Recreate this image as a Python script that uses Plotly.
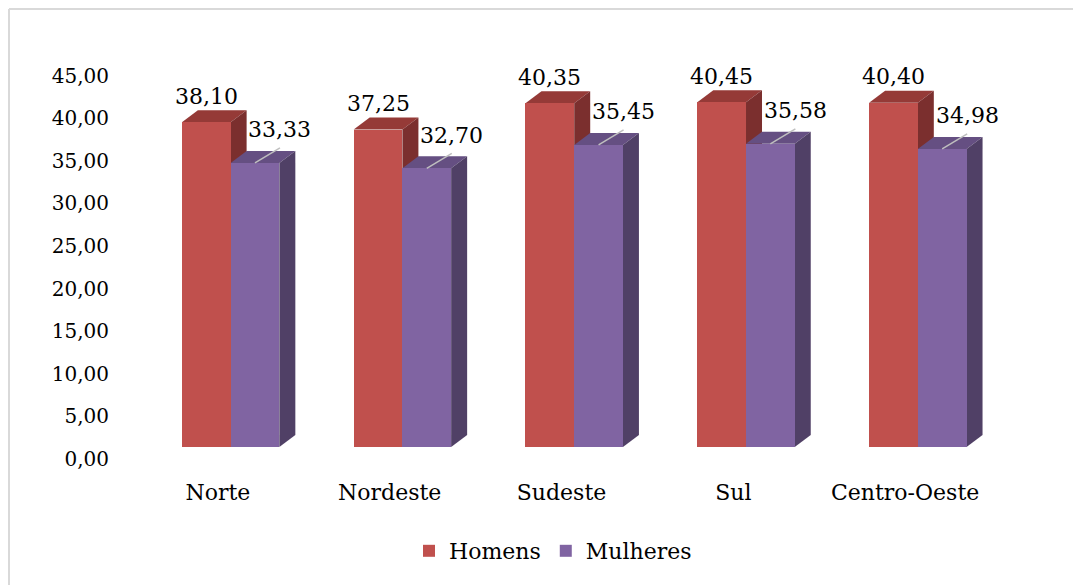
"""Idade média por região e sexo - barras com efeito 3D."""

import plotly.graph_objects as go

REGIOES = ["Norte", "Nordeste", "Sudeste", "Sul", "Centro-Oeste"]
HOMENS = [38.10, 37.25, 40.35, 40.45, 40.40]
MULHERES = [33.33, 32.70, 35.45, 35.58, 34.98]
Y_TICKS = [0, 5, 10, 15, 20, 25, 30, 35, 40, 45]
Y_TICK_LABELS = ["0,00", "5,00", "10,00", "15,00", "20,00", "25,00",
                 "30,00", "35,00", "40,00", "45,00"]

FONT = "DejaVu Serif"
# the page body keeps its default 8px margin, so the figure starts at (8, 8)
PAGE = 8
W, H = 1081 - PAGE, 585 - PAGE
ML, MR, MT, MB = 132 - PAGE, 90, 55 - PAGE, 138
Y_MAX = 46.0

# geometry of the fake 3D (category units / value units)
BAR_W = 0.2836
SHIFT = 0.074
PLOT_W = W - ML - MR
PLOT_H = H - MT - MB
DX = 16 / (PLOT_W / len(REGIOES))
DY = 12 / (PLOT_H / Y_MAX)

COLORS = {
    "Homens": ("#C0504D", "#953A37", "#7B2F2E"),
    "Mulheres": ("#8064A2", "#654F82", "#504066"),
}


def fmt(v):
    return f"{v:.2f}".replace(".", ",")


def faces(x0, x1, v, top_col, side_col):
    top = (f"M {x0},{v} L {x0 + DX},{v + DY} L {x1 + DX},{v + DY} "
           f"L {x1},{v} Z")
    side = (f"M {x1},0 L {x1 + DX},{DY} L {x1 + DX},{v + DY} "
            f"L {x1},{v} Z")
    return [
        dict(type="path", path=top, fillcolor=top_col, line_width=0,
             layer="below", xref="x", yref="y"),
        dict(type="path", path=side, fillcolor=side_col, line_width=0,
             layer="below", xref="x", yref="y"),
    ]


fig = go.Figure()
fig.add_trace(go.Bar(
    x=list(range(len(REGIOES))), y=HOMENS, name="Homens",
    width=BAR_W, offset=-BAR_W + SHIFT,
    marker=dict(color=COLORS["Homens"][0], line_width=0),
))
fig.add_trace(go.Bar(
    x=list(range(len(REGIOES))), y=MULHERES, name="Mulheres",
    width=BAR_W, offset=SHIFT,
    marker=dict(color=COLORS["Mulheres"][0], line_width=0),
))

shapes = []
annotations = []
for i in range(len(REGIOES)):
    h, m = HOMENS[i], MULHERES[i]
    hx0, hx1 = i - BAR_W + SHIFT, i + SHIFT
    mx0, mx1 = i + SHIFT, i + SHIFT + BAR_W
    shapes += faces(hx0, hx1, h, COLORS["Homens"][1], COLORS["Homens"][2])
    shapes += faces(mx0, mx1, m, COLORS["Mulheres"][1], COLORS["Mulheres"][2])

    mc = (mx0 + mx1) / 2
    shapes.append(dict(
        type="line", xref="x", yref="y", xsizemode="pixel", ysizemode="pixel",
        xanchor=mc, yanchor=m, x0=0, y0=0, x1=25, y1=15,
        line=dict(color="#BFBFBF", width=1.5), layer="above",
    ))
    annotations.append(dict(
        x=(hx0 + hx1) / 2, y=h, text=fmt(h), showarrow=False,
        xanchor="center", yanchor="middle", yshift=26,
        font=dict(family=FONT, size=22, color="#000000"),
    ))
    annotations.append(dict(
        x=mc, y=m, text=fmt(m), showarrow=False,
        xanchor="center", yanchor="middle", xshift=25, yshift=33,
        font=dict(family=FONT, size=22, color="#000000"),
    ))

# light frame: only its top and left edges fall inside the picture
frame_x0 = (1 - ML) / PLOT_W
frame_y1 = (H - MB - 1) / PLOT_H
for x0, x1, y0, y1 in [(frame_x0, frame_x0, -2, frame_y1),
                       (frame_x0, 2, frame_y1, frame_y1)]:
    shapes.append(dict(
        type="line", xref="paper", yref="paper", x0=x0, x1=x1, y0=y0, y1=y1,
        line=dict(color="#D9D9D9", width=2), layer="below",
    ))

fig.update_layout(
    width=W, height=H,
    margin=dict(l=ML, r=MR, t=MT, b=MB),
    paper_bgcolor="white", plot_bgcolor="white",
    barmode="overlay", bargap=0,
    font=dict(family=FONT, size=22, color="#000000"),
    shapes=shapes, annotations=annotations,
    showlegend=True,
    legend=dict(
        orientation="h", xref="container", yref="container",
        x=(553 - PAGE) / W, y=1 - (551 - PAGE) / H,
        xanchor="center", yanchor="middle",
        font=dict(family=FONT, size=22), itemsizing="constant",
    ),
    xaxis=dict(
        range=[-0.5, len(REGIOES) - 0.5], tickmode="array",
        tickvals=list(range(len(REGIOES))), ticktext=REGIOES,
        showgrid=False, zeroline=False, showline=False, ticks="",
        ticklabelstandoff=30, tickfont=dict(family=FONT, size=22),
    ),
    yaxis=dict(
        range=[0, Y_MAX], tickmode="array", tickvals=Y_TICKS,
        ticktext=Y_TICK_LABELS, showgrid=False, zeroline=False,
        showline=False, ticks="", ticklabelshift=12, ticklabelstandoff=22,
        tickfont=dict(family=FONT, size=20),
    ),
)

fig.write_html("out.html")
